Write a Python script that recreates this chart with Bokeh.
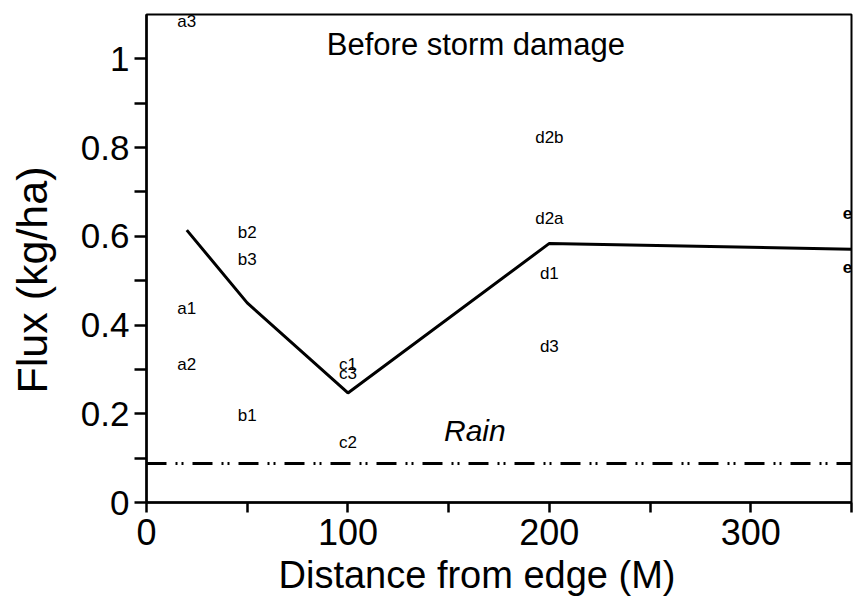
from bokeh.plotting import figure
from bokeh.models import Range1d, FixedTicker, Label, Title, ColumnDataSource
from bokeh.embed import file_html
from bokeh.resources import INLINE
from bokeh.core.properties import value

# Mean flux profile across the stand (before storm damage)
distance = [20, 50, 100, 200, 350]
flux = [0.614, 0.45, 0.247, 0.584, 0.571]

# Individual plot readings, labelled by transect / position
site_labels = ["a3", "a1", "a2", "b2", "b3", "b1", "c1", "c3", "c2",
               "d2b", "d2a", "d1", "d3"]
site_x = [20, 20, 20, 50, 50, 50, 100, 100, 100, 200, 200, 200, 200]
site_flux = [1.084, 0.438, 0.312, 0.608, 0.547, 0.197, 0.312, 0.291, 0.135,
             0.823, 0.641, 0.517, 0.351]

# Readings at the far edge, running off the plotted range
edge_labels = ["e1", "e2"]
edge_x = [345.6, 345.6]
edge_flux = [0.653, 0.531]

# Flux delivered in rainfall alone
rain_flux = 0.088

x_ticks = [0, 100, 200, 300]
x_minor = [50, 150, 250, 350]
y_ticks = [0, 0.2, 0.4, 0.6, 0.8, 1.0]
y_tick_labels = ["0", "0.2", "0.4", "0.6", "0.8", "1"]
y_minor = [0.1, 0.3, 0.5, 0.7, 0.9]

FONT = "Liberation Sans"

p = figure(width=856, height=607, output_backend="svg", toolbar_location=None,
           x_range=Range1d(0, 350), y_range=Range1d(0, 1.1),
           min_border_left=146, min_border_right=5,
           min_border_top=14, min_border_bottom=105)

p.xgrid.visible = False
p.ygrid.visible = False
p.outline_line_color = "black"
p.outline_line_width = 2
p.background_fill_color = "white"
p.border_fill_color = "white"

# Axes
p.xaxis.ticker = FixedTicker(ticks=x_ticks, minor_ticks=x_minor)
p.yaxis.ticker = FixedTicker(ticks=y_ticks, minor_ticks=y_minor)
p.yaxis.major_label_overrides = {t: s for t, s in zip(y_ticks, y_tick_labels)}
p.xaxis.major_label_overrides = {t: str(t) for t in x_ticks}

for ax in (p.xaxis, p.yaxis):
    ax.axis_line_width = 2.5
    ax.axis_line_color = "black"
    ax.major_tick_line_width = 2.5
    ax.minor_tick_line_width = 2.5
    ax.major_tick_in = 0
    ax.minor_tick_in = 0
    ax.major_label_text_font = FONT
    ax.major_label_text_color = "black"

p.xaxis.major_tick_out = 10
p.xaxis.minor_tick_out = 10
p.yaxis.major_tick_out = 12
p.yaxis.minor_tick_out = 12

p.xaxis.major_label_text_font_size = "36px"
p.yaxis.major_label_text_font_size = "35px"
p.xaxis.major_label_standoff = 6
p.yaxis.major_label_standoff = 5

# Keep a gap between the y tick labels and the y title
p.yaxis.axis_label = " "
p.yaxis.axis_label_text_font_size = "1px"
p.yaxis.axis_label_standoff = 16

# Axis titles, offset along the frame edge
p.add_layout(Title(text="Distance from edge (M)", align="left", offset=132,
                   text_font=FONT, text_font_size="38px",
                   text_font_style="normal", text_color="black",
                   standoff=8), "below")
p.add_layout(Title(text="Flux (kg/ha)", align="left", offset=109,
                   text_font=FONT, text_font_size="43px",
                   text_font_style="normal", text_color="black",
                   standoff=4), "left")

# Rain reference line
p.line(x=[0, 350], y=[rain_flux, rain_flux], line_color="black",
       line_width=3, line_dash="20 9 2 4 2 9")

# Mean flux profile
p.line(x=distance, y=flux, line_color="black", line_width=3)

# Site labels
src = ColumnDataSource(data=dict(x=site_x, y=site_flux, t=site_labels))
p.text(x="x", y="y", text="t", source=src,
       text_font=value(FONT), text_font_size="17px",
       text_align="center", text_baseline="middle", text_color="black")

edge_src = ColumnDataSource(data=dict(x=edge_x, y=edge_flux, t=edge_labels))
p.text(x="x", y="y", text="t", source=edge_src,
       text_font=value(FONT), text_font_size="17px", text_font_style="bold",
       text_align="left", text_baseline="middle", text_color="black")

# Annotations
p.add_layout(Label(x=163.5, y=1.032, text="Before storm damage",
                   text_font=FONT, text_font_size="31px",
                   text_align="center", text_baseline="middle",
                   text_color="black"))
p.add_layout(Label(x=163, y=0.162, text="Rain",
                   text_font=FONT, text_font_size="30px",
                   text_font_style="italic",
                   text_align="center", text_baseline="middle",
                   text_color="black"))

open("out.html", "w").write(file_html(p, INLINE))
